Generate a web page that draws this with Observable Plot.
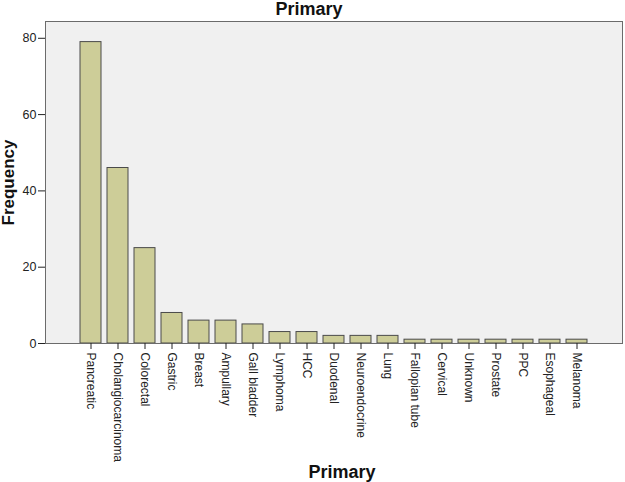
<!DOCTYPE html>
<html>
<head>
<meta charset="utf-8">
<script src="https://cdn.jsdelivr.net/npm/d3@7"></script>
<script src="https://cdn.jsdelivr.net/npm/@observablehq/plot@0.6"></script>
<style>
  html, body { margin: 0; padding: 0; background: #fff; }
  svg { display: block; }
</style>
</head>
<body>
<div id="chart"></div>
<script>
const categories = ["Pancreatic", "Cholangiocarcinoma", "Colorectal", "Gastric", "Breast", "Ampullary", "Gall bladder", "Lymphoma", "HCC", "Duodenal", "Neuroendocrine", "Lung", "Fallopian tube", "Cervical", "Unknown", "Prostate", "PPC", "Esophageal", "Melanoma"];
const frequencies = [79, 46, 25, 8, 6, 6, 5, 3, 3, 2, 2, 2, 1, 1, 1, 1, 1, 1, 1];
const yTicks = [0, 20, 40, 60, 80];
const chartTitle = "Primary";
const xLabel = "Primary";
const yLabel = "Frequency";

const data = categories.map((c, i) => ({category: c, value: frequencies[i]}));
const font = "'Liberation Sans', Arial, Helvetica, sans-serif";

const chart = Plot.plot({
  width: 625,
  height: 482,
  marginLeft: 45,
  marginRight: 3,
  marginTop: 21,
  marginBottom: 139,
  style: {fontFamily: font, fontSize: "12px", color: "#222", background: "#fff"},
  x: {type: "band", domain: categories, paddingInner: 0.23, paddingOuter: 1.15, align: 0.5},
  y: {domain: [0, 84.4]},
  marks: [
    Plot.frame({fill: "#f0f0f0", stroke: null}),
    Plot.barY(data, {x: "category", y: "value", fill: "#cdcd98", stroke: "#4a4a4a", strokeWidth: 1}),
    Plot.frame({stroke: "#6b6b6b", strokeWidth: 1}),
    Plot.axisY({ticks: yTicks, tickSize: 7, tickPadding: 2, label: null, fontSize: 12.5}),
    Plot.axisX({tickSize: 6, tickPadding: 3, tickRotate: 90, label: null, fontSize: 12}),
    Plot.text([chartTitle], {text: d => d, frameAnchor: "top", lineAnchor: "middle", textAnchor: "middle", dx: -25, dy: -12, fontWeight: "bold", fontSize: 18, fill: "#111"}),
    Plot.text([xLabel], {text: d => d, frameAnchor: "bottom", lineAnchor: "middle", textAnchor: "middle", dx: 8, dy: 129, fontWeight: "bold", fontSize: 18, fill: "#111"}),
    Plot.text([yLabel], {text: d => d, frameAnchor: "left", lineAnchor: "middle", textAnchor: "middle", dx: -37, rotate: -90, fontWeight: "bold", fontSize: 17, fill: "#111"})
  ]
});
document.getElementById("chart").appendChild(chart);
</script>
</body>
</html>
